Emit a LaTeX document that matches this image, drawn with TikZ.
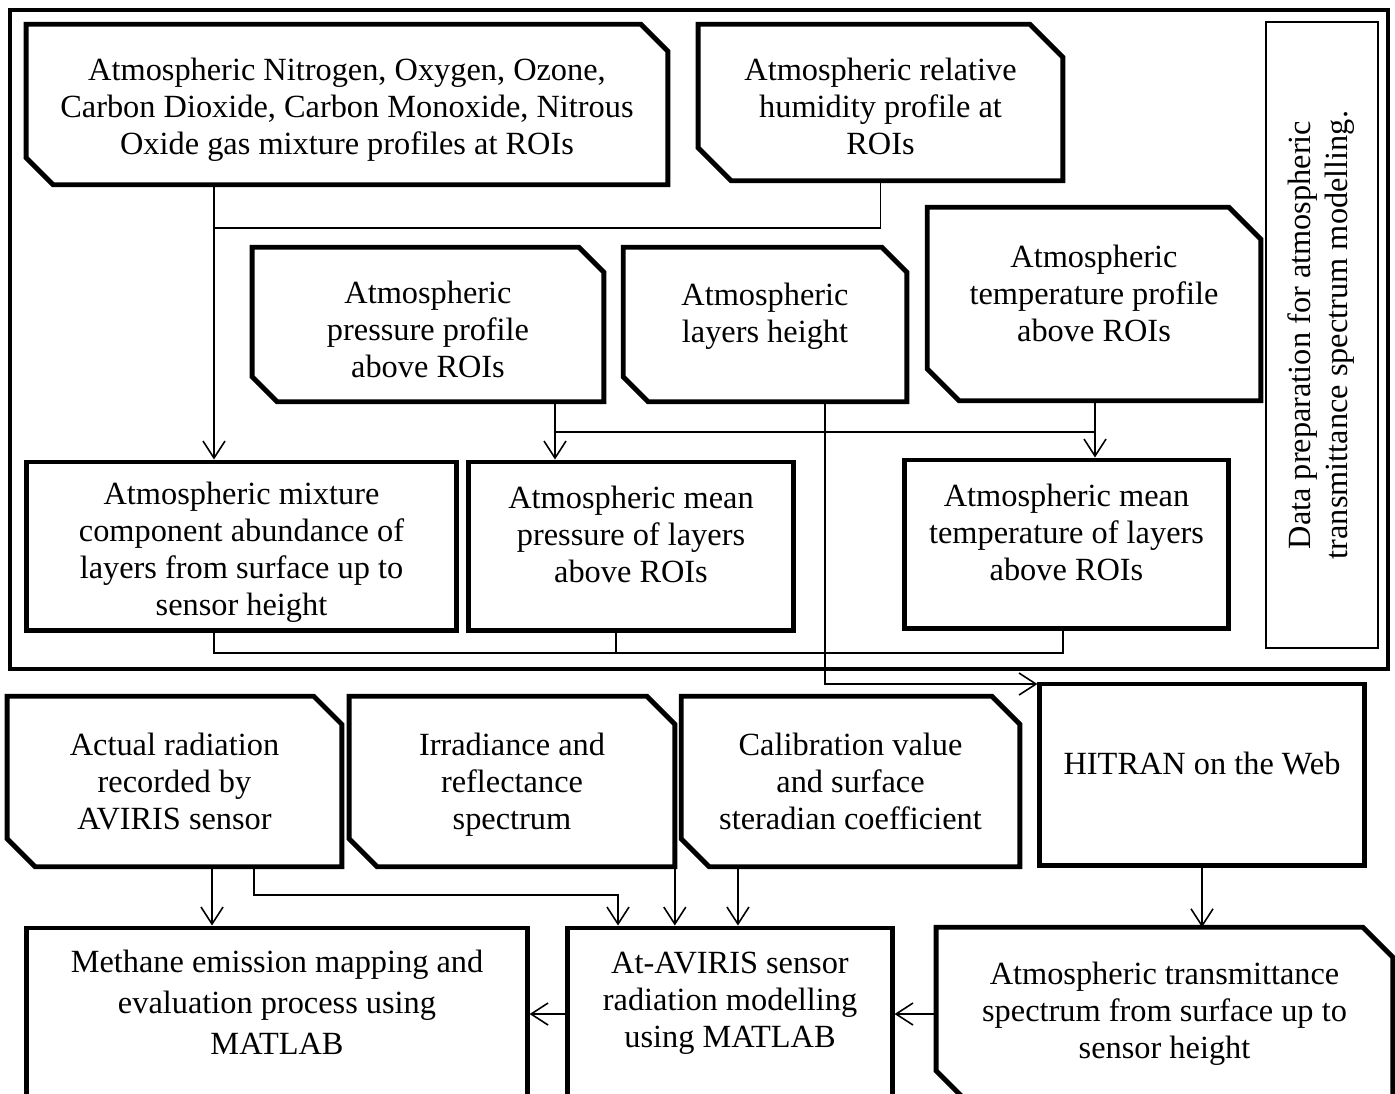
\documentclass[tikz,border=0pt]{standalone}
\usepackage{fontspec}
\setmainfont{Liberation Serif}
\usetikzlibrary{arrows.meta,calc}
% text block, optionally lifted inside its box
\newcommand{\boxtext}[2][0cm]{\raisebox{#1}[\height][\depth]{\begin{tabular}{@{}c@{}}#2\end{tabular}}}

\begin{document}
\begin{tikzpicture}[x=0.01cm,y=-0.01cm,>={Straight Barb[length=1.7mm,width=2.2mm]},
	card/.style={rectangle, inner sep=0pt, font=\fontsize{9.2}{10.5}\selectfont},
	plainbox/.style={card, draw, line width=1.4pt},
	cardline/.style={line width=1.4pt},
	link/.style={line width=0.45pt}]
	\useasboundingbox (0,0) rectangle (1395,1093);
	\clip (0,0) rectangle (1395,1093);

	% data preparation part
	\draw[line width=1.4pt] (10,10) rectangle (1388,669);
	\node[card, draw, line width=0.45pt, rotate=90, minimum width=6.26cm, minimum height=1.12cm] (prep) at (1322,335) {\boxtext{Data preparation for atmospheric\\transmittance spectrum modelling.}};

	\node[card, minimum width=6.40cm, minimum height=1.59cm] (gas) at (347,104.5) {\boxtext[-0.06cm]{Atmospheric Nitrogen, Oxygen, Ozone,\\Carbon Dioxide, Carbon Monoxide, Nitrous\\Oxide gas mixture profiles at ROIs}};
	\node[card, minimum width=3.63cm, minimum height=1.55cm] (humid) at (880.5,102.5) {\boxtext[-0.08cm]{Atmospheric relative\\humidity profile at\\ROIs}};
	\node[card, minimum width=3.50cm, minimum height=1.53cm] (press) at (428,324.5) {\boxtext[-0.085cm]{Atmospheric\\pressure profile\\above ROIs}};
	\node[card, minimum width=2.82cm, minimum height=1.53cm] (layer) at (765,324.5) {\boxtext[0.08cm]{Atmospheric\\layers height}};
	\node[card, minimum width=3.32cm, minimum height=1.92cm] (temp) at (1094,304) {\boxtext[0.07cm]{Atmospheric\\temperature profile\\above ROIs}};

	\node[plainbox, minimum width=4.29cm, minimum height=1.68cm] (mix) at (241.5,546) {\boxtext[-0.065cm]{Atmospheric mixture\\component abundance of\\layers from surface up to\\sensor height}};
	\node[plainbox, minimum width=3.24cm, minimum height=1.68cm] (meanp) at (631,546) {\boxtext[0.08cm]{Atmospheric mean\\pressure of layers\\above ROIs}};
	\node[plainbox, minimum width=3.23cm, minimum height=1.68cm] (meant) at (1066.5,544) {\boxtext[0.08cm]{Atmospheric mean\\temperature of layers\\above ROIs}};

	% modelling part
	\node[card, minimum width=3.33cm, minimum height=1.69cm] (actual) at (174.5,781.5) {\boxtext[-0.04cm]{Actual radiation\\recorded by\\AVIRIS sensor}};
	\node[card, minimum width=3.24cm, minimum height=1.69cm] (irrad) at (512,781.5) {\boxtext[-0.04cm]{Irradiance and\\reflectance\\spectrum}};
	\node[card, minimum width=3.37cm, minimum height=1.69cm] (calib) at (850.5,781.5) {\boxtext[-0.04cm]{Calibration value\\and surface\\steradian coefficient}};
	\node[plainbox, minimum width=3.24cm, minimum height=1.81cm] (hitran) at (1202,774.5) {\boxtext[0.07cm]{HITRAN on the Web}};

	\node[plainbox, minimum width=5.00cm, minimum height=1.72cm] (meth) at (277,1014) {\boxtext[0.08cm]{Methane emission mapping and\\[0.04cm]evaluation process using\\[0.04cm]MATLAB}};
	\node[plainbox, minimum width=3.24cm, minimum height=1.72cm] (model) at (730,1014) {\boxtext[0.11cm]{At-AVIRIS sensor\\radiation modelling\\using MATLAB}};
	\node[card, minimum width=4.55cm, minimum height=1.72cm] (trans) at (1164.5,1014) {\boxtext{Atmospheric transmittance\\spectrum from surface up to\\sensor height}};

	% cut corners
	\foreach \n/\c in {gas/0.27,humid/0.33,press/0.25,layer/0.25,temp/0.32,actual/0.28,irrad/0.28,calib/0.28,trans/0.3}
		\draw[cardline] (\n.north west) -- ([xshift=-\c cm]\n.north east) -- ([yshift=-\c cm]\n.north east) -- (\n.south east) -- ([xshift=\c cm]\n.south west) -- ([yshift=\c cm]\n.south west) -- cycle;

	% junctions
	\coordinate (jA) at (214,228);
	\coordinate (jP) at (555,432);
	\coordinate (jT) at (1095,432);
	\coordinate (jH) at (825,684);
	\coordinate (jL) at (214,653);
	\coordinate (jM) at (616,653);
	\coordinate (jR) at (1063,653);
	\coordinate (jK) at (618,895);

	\draw[link,->] (gas.south -| jA) -- (jA |- mix.north);
	\draw[link] (humid.south) |- (jA);
	\draw[link,->] (press.south -| jP) -- (jP |- meanp.north);
	\draw[link,->] (temp.south -| jT) -- (jT |- meant.north);
	\draw[link] (jP) -- (jT);
	\draw[link,->] (layer.south -| jH) -- (jH) -- (jH -| hitran.west);
	\draw[link] (mix.south -| jL) -- (jL) -- (jR) -- (meant.south -| jR);
	\draw[link] (meanp.south -| jM) -- (jM);

	\draw[link,->] ([xshift=3.75mm]actual.south) coordinate (a1) -- (a1 |- meth.north);
	\draw[link,->] ([xshift=7.95mm]actual.south) |- (jK) -- (jK |- model.north);
	\draw[link,->] (irrad.south east) -- (irrad.south east |- model.north);
	\draw[link,->] ([xshift=-1.125cm]calib.south) coordinate (a3) -- (a3 |- model.north);
	\draw[link,->] (hitran.south) -- (hitran.south |- trans.north);
	\draw[link,->] (trans.west) -- (model.east);
	\draw[link,->] (model.west) -- (meth.east);
\end{tikzpicture}
\end{document}
